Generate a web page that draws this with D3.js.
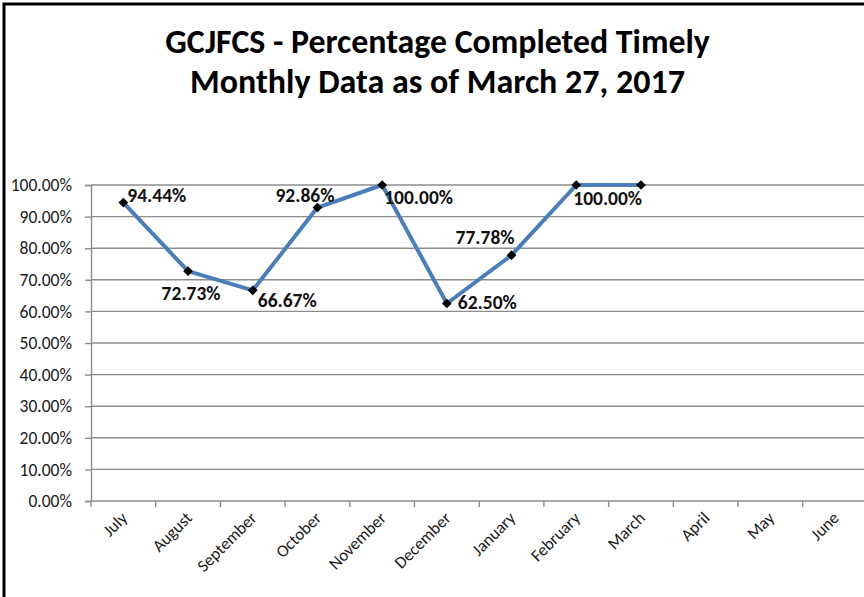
<!DOCTYPE html>
<meta charset="utf-8">
<style>
    body { margin: 0; background: #fff; }
    svg { display: block; }
    .ylab, .xlab { font-family: Carlito, Calibri, "Open Sans", sans-serif; fill: #1a1a1a; }
    .title { font-family: Carlito, Calibri, "Open Sans", sans-serif; font-weight: bold; fill: #000; }
    .dlab { font-family: Carlito, Calibri, "Open Sans", sans-serif; font-weight: bold; fill: #111; }
</style>
<body>
<script src="https://cdnjs.cloudflare.com/ajax/libs/d3/7.8.5/d3.min.js"></script>
<script>
    var months = ["July", "August", "September", "October", "November", "December",
                  "January", "February", "March", "April", "May", "June"];
    var values = [94.44, 72.73, 66.67, 92.86, 100.00, 62.50, 77.78, 100.00, 100.00];
    var yTicks = [0, 10, 20, 30, 40, 50, 60, 70, 80, 90, 100];
    var titleLines = ["GCJFCS - Percentage Completed Timely", "Monthly Data as of March 27, 2017"];

    // where each data label sits around its marker (March label hidden under February's)
    var labelPos = [
        { dx: 4, dy: -1, anchor: "start" },
        { dx: 3, dy: 29, anchor: "middle" },
        { dx: 5, dy: 17, anchor: "start" },
        { dx: 17, dy: -6, anchor: "end" },
        { dx: 2, dy: 19, anchor: "start" },
        { dx: 11, dy: 5, anchor: "start" },
        { dx: 3, dy: -11, anchor: "end" },
        { dx: -3, dy: 20, anchor: "start" },
        null
    ];

    var width = 864, height = 597;
    var plotLeft = 91, plotTop = 185, plotBottom = 501, band = 64.7;

    var svg = d3.select("body").append("svg")
        .attr("width", width)
        .attr("height", height);

    // frame (only left and top visible)
    svg.append("path")
        .attr("d", "M4,597V4H864")
        .attr("fill", "none")
        .attr("stroke", "#000")
        .attr("stroke-width", 3);

    svg.selectAll(".title")
        .data(titleLines)
        .enter().append("text")
        .attr("class", "title")
        .attr("x", 437.5)
        .attr("y", function (d, i) { return 53 + i * 40; })
        .attr("text-anchor", "middle")
        .style("font-size", "28px")
        .text(function (d) { return d; })
        .each(function (d, i) {
            var target = i == 0 ? 545 : 495;
            var w = this.getComputedTextLength();
            d3.select(this).style("font-size", (28 * target / w) + "px");
        });

    var x = d3.scaleBand()
        .domain(months)
        .range([plotLeft, plotLeft + band * months.length]);

    var y = d3.scaleLinear()
        .domain([0, 100])
        .range([plotBottom, plotTop]);

    // gridlines
    svg.append("g")
        .selectAll("line")
        .data(yTicks.slice(1))
        .enter().append("line")
        .attr("x1", plotLeft)
        .attr("x2", width)
        .attr("y1", function (d) { return y(d); })
        .attr("y2", function (d) { return y(d); })
        .attr("stroke", "#8c8c8c")
        .attr("stroke-width", 1.4);

    var yAxis = svg.append("g")
        .attr("transform", "translate(" + plotLeft + ",0)")
        .call(d3.axisLeft(y).tickValues(yTicks).tickSize(6).tickPadding(13)
            .tickFormat(function (d) { return d.toFixed(2) + "%"; }));
    yAxis.select(".domain").attr("stroke", "#8c8c8c").attr("stroke-width", 1.4);
    yAxis.selectAll(".tick line").attr("stroke", "#8c8c8c").attr("stroke-width", 1.4);
    yAxis.selectAll(".tick text")
        .attr("class", "ylab")
        .attr("fill", null)
        .style("font-size", "17.5px");

    var xAxis = svg.append("g")
        .attr("transform", "translate(0," + plotBottom + ")")
        .call(d3.axisBottom(x).tickSize(0).tickSizeOuter(0));
    xAxis.select(".domain").attr("stroke", "#8c8c8c").attr("stroke-width", 1.4)
        .attr("d", "M" + plotLeft + ",0H" + width);
    xAxis.selectAll(".tick text")
        .attr("class", "xlab")
        .attr("fill", null)
        .attr("text-anchor", "end")
        .attr("dy", null)
        .attr("y", 0)
        .attr("transform", "translate(5,18) rotate(-45)")
        .style("font-size", "17px");

    // category boundary ticks
    svg.append("g")
        .selectAll("line")
        .data(months)
        .enter().append("line")
        .attr("x1", function (d) { return x(d); })
        .attr("x2", function (d) { return x(d); })
        .attr("y1", plotBottom)
        .attr("y2", plotBottom + 6)
        .attr("stroke", "#8c8c8c")
        .attr("stroke-width", 1.4);

    var pts = values.map(function (v, i) { return { m: months[i], v: v, i: i }; });
    var cx = function (d) { return x(d.m) + x.bandwidth() / 2; };

    svg.append("path")
        .datum(pts)
        .attr("fill", "none")
        .attr("stroke", "#4a7ebb")
        .attr("stroke-width", 4)
        .attr("stroke-linejoin", "round")
        .attr("d", d3.line().x(cx).y(function (d) { return y(d.v); }));

    svg.selectAll(".marker")
        .data(pts)
        .enter().append("path")
        .attr("class", "marker")
        .attr("transform", function (d) { return "translate(" + cx(d) + "," + y(d.v) + ")"; })
        .attr("d", d3.symbol().type(d3.symbolDiamond2).size(60))
        .attr("fill", "#000");

    svg.selectAll(".dlab")
        .data(pts.filter(function (d) { return labelPos[d.i]; }))
        .enter().append("text")
        .attr("class", "dlab")
        .attr("x", function (d) { return cx(d) + labelPos[d.i].dx; })
        .attr("y", function (d) { return y(d.v) + labelPos[d.i].dy; })
        .attr("text-anchor", function (d) { return labelPos[d.i].anchor; })
        .style("font-size", "19.5px")
        .text(function (d) { return d.v.toFixed(2) + "%"; });
</script>
</body>
